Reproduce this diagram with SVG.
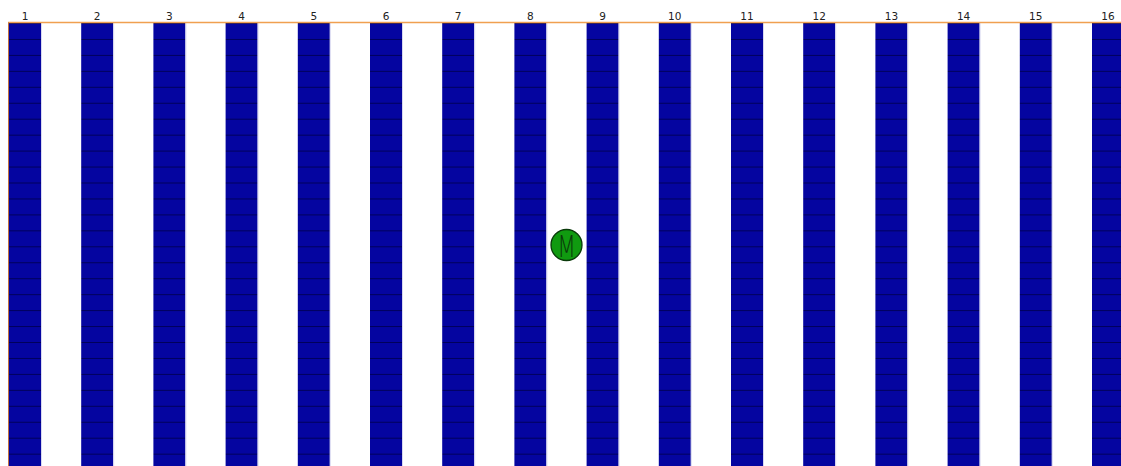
<svg xmlns="http://www.w3.org/2000/svg" width="1121" height="466" viewBox="0 0 1121 466">
<style>
.lbl{font-family:"DejaVu Sans","Liberation Sans",sans-serif;font-size:10.5px;fill:#222;text-anchor:middle}
.col{fill:url(#rows);stroke:none}
.edge{stroke:#d8d8f0;stroke-width:1}
</style>
<defs>
<pattern id="rows" patternUnits="userSpaceOnUse" x="0" y="23" width="40" height="15.95">
<rect x="0" y="0" width="40" height="15.95" fill="#0505a0"/>
<rect x="0" y="-0.7" width="40" height="1.5" fill="#00004a"/>
</pattern>
</defs>
<rect width="1121" height="466" fill="#ffffff"/>
<g id="stacks">
<g id="col1"><rect class="col" x="9" y="23" width="32" height="443"/><line class="edge" x1="41.5" y1="23" x2="41.5" y2="466"/><text class="lbl" x="25" y="20">1</text></g>
<g id="col2"><rect class="col" x="81.2" y="23" width="32" height="443"/><line class="edge" x1="113.7" y1="23" x2="113.7" y2="466"/><text class="lbl" x="97.2" y="20">2</text></g>
<g id="col3"><rect class="col" x="153.4" y="23" width="32" height="443"/><line class="edge" x1="185.9" y1="23" x2="185.9" y2="466"/><text class="lbl" x="169.4" y="20">3</text></g>
<g id="col4"><rect class="col" x="225.6" y="23" width="32" height="443"/><line class="edge" x1="258.1" y1="23" x2="258.1" y2="466"/><text class="lbl" x="241.6" y="20">4</text></g>
<g id="col5"><rect class="col" x="297.8" y="23" width="32" height="443"/><line class="edge" x1="330.3" y1="23" x2="330.3" y2="466"/><text class="lbl" x="313.8" y="20">5</text></g>
<g id="col6"><rect class="col" x="370" y="23" width="32" height="443"/><line class="edge" x1="402.5" y1="23" x2="402.5" y2="466"/><text class="lbl" x="386" y="20">6</text></g>
<g id="col7"><rect class="col" x="442.2" y="23" width="32" height="443"/><line class="edge" x1="474.7" y1="23" x2="474.7" y2="466"/><text class="lbl" x="458.2" y="20">7</text></g>
<g id="col8"><rect class="col" x="514.4" y="23" width="32" height="443"/><line class="edge" x1="546.9" y1="23" x2="546.9" y2="466"/><text class="lbl" x="530.4" y="20">8</text></g>
<g id="col9"><rect class="col" x="586.6" y="23" width="32" height="443"/><line class="edge" x1="619.1" y1="23" x2="619.1" y2="466"/><text class="lbl" x="602.6" y="20">9</text></g>
<g id="col10"><rect class="col" x="658.8" y="23" width="32" height="443"/><line class="edge" x1="691.3" y1="23" x2="691.3" y2="466"/><text class="lbl" x="674.8" y="20">10</text></g>
<g id="col11"><rect class="col" x="731" y="23" width="32" height="443"/><line class="edge" x1="763.5" y1="23" x2="763.5" y2="466"/><text class="lbl" x="747" y="20">11</text></g>
<g id="col12"><rect class="col" x="803.2" y="23" width="32" height="443"/><line class="edge" x1="835.7" y1="23" x2="835.7" y2="466"/><text class="lbl" x="819.2" y="20">12</text></g>
<g id="col13"><rect class="col" x="875.4" y="23" width="32" height="443"/><line class="edge" x1="907.9" y1="23" x2="907.9" y2="466"/><text class="lbl" x="891.4" y="20">13</text></g>
<g id="col14"><rect class="col" x="947.6" y="23" width="32" height="443"/><line class="edge" x1="980.1" y1="23" x2="980.1" y2="466"/><text class="lbl" x="963.6" y="20">14</text></g>
<g id="col15"><rect class="col" x="1019.8" y="23" width="32" height="443"/><line class="edge" x1="1052.3" y1="23" x2="1052.3" y2="466"/><text class="lbl" x="1035.8" y="20">15</text></g>
<g id="col16"><rect class="col" x="1092" y="23" width="32" height="443"/><text class="lbl" x="1108" y="20">16</text></g>
</g>
<g id="border">
<line x1="8" y1="22.5" x2="1121" y2="22.5" stroke="#f0a050" stroke-width="1.3"/>
<line x1="8.5" y1="22.5" x2="8.5" y2="466" stroke="#c07040" stroke-width="1"/>
</g>
<g id="marker-M">
<circle cx="566.5" cy="245" r="15.5" fill="#109a10" stroke="#0a3a0a" stroke-width="1.3"/>
<text x="566.5" y="257.5" font-family="'DejaVu Sans','Liberation Sans',sans-serif" font-size="30" font-weight="200" fill="#0a3a0a" text-anchor="middle" transform="translate(566.5 0) scale(0.72 1) translate(-566.5 0)">M</text>
</g>
</svg>
